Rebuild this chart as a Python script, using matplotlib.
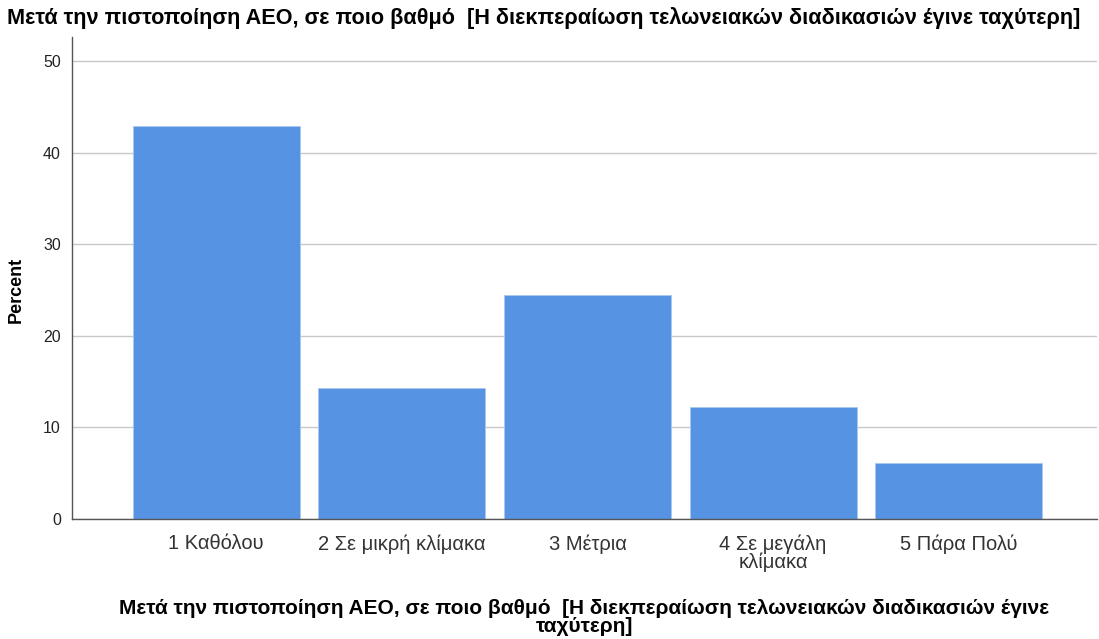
import matplotlib
matplotlib.use("Agg")
import matplotlib.pyplot as plt

plt.rcParams["font.family"] = ["Liberation Sans", "DejaVu Sans"]

categories = ["1 Καθόλου", "2 Σε μικρή κλίμακα", "3 Μέτρια", "4 Σε μεγάλη\nκλίμακα", "5 Πάρα Πολύ"]
percent = [42.86, 14.29, 24.49, 12.24, 6.12]
y_ticks = [0, 10, 20, 30, 40, 50]

TITLE = "Μετά την πιστοποίηση AEO, σε ποιο βαθμό  [Η διεκπεραίωση τελωνειακών διαδικασιών έγινε ταχύτερη]"
XLABEL = "Μετά την πιστοποίηση AEO, σε ποιο βαθμό  [Η διεκπεραίωση τελωνειακών διαδικασιών έγινε\nταχύτερη]"

fig = plt.figure(figsize=(10.99, 6.39), dpi=100, facecolor="white")
ax = fig.add_axes([0.0655, 0.1878, 0.9327, 0.7542])

x = list(range(1, len(categories) + 1))
ax.set_axisbelow(True)
ax.yaxis.grid(True, color="#c8c8c8", linewidth=1.0)
ax.bar(x, percent, width=0.9, color="#5694e3", edgecolor="#a9c8f0", linewidth=0.6)

ax.set_xlim(0.223, 5.745)
ax.set_ylim(0, 52.6)
ax.set_yticks(y_ticks)
ax.set_xticks(x)
ax.set_xticklabels(categories, fontsize=14.5, color="#333333", linespacing=0.95)
ax.tick_params(axis="both", length=0)
ax.tick_params(axis="y", labelsize=11.5, colors="#222222", pad=8)
ax.tick_params(axis="x", pad=11)

for side in ("top", "right"):
    ax.spines[side].set_visible(False)
for side in ("left", "bottom"):
    ax.spines[side].set_color("#555555")
    ax.spines[side].set_linewidth(1.0)

# label sits centred on the 0-50 range, not the full axis height
ax.set_ylabel("Percent", fontsize=13, fontweight="bold")
ax.yaxis.set_label_coords(-0.046, 50 / 52.6 / 2)
ax.set_xlabel(XLABEL, fontsize=15, fontweight="bold", labelpad=19, linespacing=0.95)

fig.text(0.495, 0.972, TITLE, ha="center", va="center", fontsize=15.6, fontweight="bold")

fig.savefig("out.png", dpi=100, facecolor="white")
